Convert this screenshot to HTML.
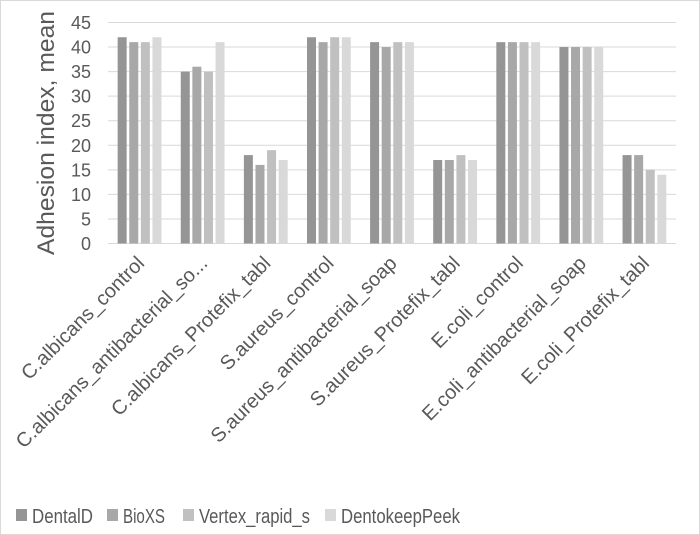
<!DOCTYPE html>
<html><head><meta charset="utf-8"><style>
body{margin:0;background:#fff}
svg{display:block;font-family:"Liberation Sans",sans-serif}
</style></head><body>
<svg id="c" width="700" height="535">
<rect x="0.5" y="0.5" width="699" height="534" fill="#fff" stroke="#d9d9d9"/>
<g id="grid"></g><g id="bars"></g><g id="labels"></g>
<text transform="translate(54,133) rotate(-90)" text-anchor="middle" font-size="24" fill="#595959" textLength="244" lengthAdjust="spacingAndGlyphs">Adhesion index, mean</text>
<g id="legend"></g>
</svg>
<script>
const categories=["C.albicans_control","C.albicans_antibacterial_so...","C.albicans_Protefix_tabl","S.aureus_control","S.aureus_antibacterial_soap","S.aureus_Protefix_tabl","E.coli_control","E.coli_antibacterial_soap","E.coli_Protefix_tabl"];
const seriesNames=["DentalD","BioXS","Vertex_rapid_s","DentokeepPeek"];
const dentalD=[42,35,18,42,41,17,41,40,18];
const bioXS=[41,36,16,41,40,17,41,40,18];
const vertex=[41,35,19,42,41,18,41,40,15];
const dentokeep=[42,41,17,42,41,17,41,40,14];
const yTicks=[0,5,10,15,20,25,30,35,40,45];
const series=[dentalD,bioXS,vertex,dentokeep];
const colors=["#959595","#a8a8a8","#c0c0c0","#d9d9d9"];
const NS="http://www.w3.org/2000/svg";
const x0=108,x1=676,y0=243.5,yTop=22.5;
const y=v=>y0-(v/45)*(y0-yTop);
const cw=(x1-x0)/categories.length;
const bw=9,bs=11.6;
function mk(t,a,p){const e=document.createElementNS(NS,t);for(const k in a)e.setAttribute(k,a[k]);p.appendChild(e);return e;}
const g=document.getElementById('grid');
yTicks.forEach(t=>{
 const l=mk('line',{x1:x0,x2:x1,y1:y(t),y2:y(t),stroke:'#d9d9d9','stroke-width':1},g);
 
 
 const tx=mk('text',{x:91,y:y(t)+6.5,'text-anchor':'end','font-size':18,fill:'#595959'},g);
 tx.textContent=t;
 
 
});
const b=document.getElementById('bars');
categories.forEach((c,i)=>{
 const cx=x0+cw*(i+0.5);
 series.forEach((s,j)=>{
  const bx=cx-2*bs+j*bs+(bs-bw)/2;
  const r=mk('rect',{x:bx,y:y(s[i]),width:bw,height:y0-y(s[i]),fill:colors[j]},b);
  
  
 });
 const lt=mk('text',{'text-anchor':'end','font-size':20,fill:'#595959',transform:`translate(${cx+6},${y0+21}) rotate(-45)`},document.getElementById('labels'));
 lt.textContent=c;
 
 
});
const lg=document.getElementById('legend');
const lx=[16,107,183,325];
const lw=[61,42,111,119];
seriesNames.forEach((n,j)=>{
 const it=mk('g',{},lg);
 
 
 mk('rect',{x:lx[j],y:509,width:11,height:12,fill:colors[j]},it);
 const t=mk('text',{x:lx[j]+16,y:523,'font-size':20,fill:'#595959',textLength:lw[j],lengthAdjust:'spacingAndGlyphs'},it);
 t.textContent=n;
});
</script>
</body></html>
